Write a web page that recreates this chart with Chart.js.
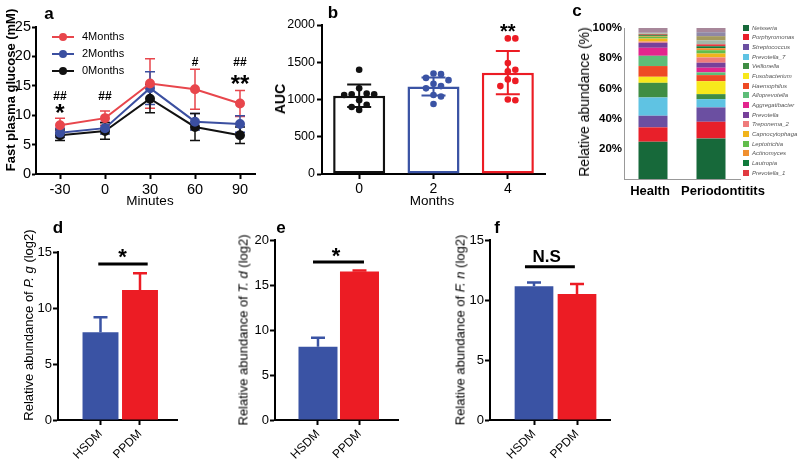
<!DOCTYPE html>
<html lang="en">
<head>
<meta charset="UTF-8" />
<title>Glucose tolerance and oral microbiota</title>
<script src="https://cdn.jsdelivr.net/npm/chart.js@4.4.0/dist/chart.umd.min.js"></script>
<style>
  body { margin: 0; background: #fff; font-family: "Liberation Sans", Arial, sans-serif; }
  #fig { position: relative; width: 800px; height: 470px; overflow: hidden; background: #fff; }
  #fig canvas { position: absolute; }
  .txt { position: absolute; white-space: nowrap; color: #000; line-height: 1; transform: translate(-50%, -50%); }
  .rot { transform: translate(-50%, -50%) rotate(-90deg); }
  .letter { font-weight: bold; font-size: 17px; }
  .cat { font-weight: bold; font-size: 13px; }
  #legendC { position: absolute; left: 743px; top: 23px; font-size: 6px; font-style: italic; color: #555; }
  #legendC div { height: 9.67px; display: flex; align-items: center; white-space: nowrap; }
  #legendC span { display: inline-block; width: 6px; height: 6px; margin-right: 3px; }
</style>
</head>
<body>
<div id="fig">
  <canvas id="chartA" width="262" height="215" style="left:0;top:0"></canvas>
  <canvas id="chartB" width="290" height="215" style="left:262px;top:0"></canvas>
  <canvas id="chartC" width="240" height="215" style="left:560px;top:0"></canvas>
  <canvas id="chartD" width="185" height="248" style="left:0;top:222px"></canvas>
  <canvas id="chartE" width="205" height="248" style="left:200px;top:222px"></canvas>
  <canvas id="chartF" width="200" height="248" style="left:420px;top:222px"></canvas>

  <div class="txt letter" style="left:49px;top:13px">a</div>
  <div class="txt letter" style="left:333px;top:12px">b</div>
  <div class="txt letter" style="left:577px;top:10px">c</div>
  <div class="txt letter" style="left:58px;top:227px">d</div>
  <div class="txt letter" style="left:281px;top:227px">e</div>
  <div class="txt letter" style="left:497px;top:227px">f</div>

  <div class="txt rot" style="left:10px;top:90px;font-weight:bold;font-size:13px">Fast plasma glucose (mM)</div>
  <div class="txt" style="left:150px;top:201px;font-size:13.5px">Minutes</div>
  <div class="txt rot" style="left:280px;top:99px;font-weight:bold;font-size:14px">AUC</div>
  <div class="txt" style="left:432px;top:201px;font-size:13.5px">Months</div>
  <div class="txt rot" style="left:584px;top:102px;font-size:14px">Relative abundance (%)</div>
  <div class="txt rot" style="left:28px;top:325px;font-size:13px">Relative abundance of <i>P. g</i> (log2)</div>
  <div class="txt rot" style="left:243px;top:330px;font-size:13px">Relative abundance of <i>T. d</i> (log2)</div>
  <div class="txt rot" style="left:460px;top:330px;font-size:13px">Relative abundance of <i>F. n</i> (log2)</div>

  <div id="catsC"></div>
  <div id="legendC"></div>
</div>
<script>
  // a: fasting glucose over time
  const minutes = [-30, 0, 30, 60, 90];
  const glucose4M = [8.3, 9.5, 15.4, 14.4, 12.0];
  const glucose4MSd = [1.2, 1.2, 4.2, 3.4, 2.2];
  const glucose2M = [7.0, 7.8, 14.6, 8.9, 8.5];
  const glucose2MSd = [0.8, 1.0, 2.8, 1.4, 1.4];
  const glucose0M = [6.6, 7.3, 12.8, 8.0, 6.6];
  const glucose0MSd = [0.9, 1.4, 2.4, 2.3, 1.4];

  // b: AUC per group
  const aucGroups = ["0", "2", "4"];
  const aucMean = [1050, 1175, 1360];
  const aucSd = [150, 120, 290];
  const auc0M = [1400, 1150, 1080, 1070, 1070, 1060, 990, 930, 900, 860];
  const auc2M = [1350, 1340, 1290, 1260, 1210, 1180, 1150, 1060, 1040, 940];
  const auc4M = [1820, 1820, 1490, 1400, 1380, 1270, 1250, 1180, 1000, 990];

  // c: genus level composition
  const cohorts = ["Health", "Periodontitits"];
  const taxa = ["Neisseria", "Porphyromonas", "Streptococcus", "Prevotella_7", "Veillonella",
    "Fusobacterium", "Haemophilus", "Alloprevotella", "Aggregatibacter", "Prevotella",
    "Treponema_2", "Capnocytophaga", "Leptotrichia", "Actinomyces", "Lautropia", "Prevotella_1"];
  const taxaHealth = [24.7, 9.5, 7.7, 12.1, 9.7, 4.0, 7.1, 6.8, 5.3, 3.3, 0.8, 2.0, 1.2, 0.6, 0.7, 0.5];
  const taxaPerio = [26.9, 11.0, 9.5, 5.5, 3.3, 8.6, 4.0, 1.8, 3.1, 3.3, 3.5, 2.6, 2.2, 1.3, 1.3, 1.3];
  const otherHealth = [0.4, 0.3, 0.2, 3.1];
  const otherPerio = [2.6, 2.8, 2.6, 2.8];

  // d-f: qPCR
  const qpcrGroups = ["HSDM", "PPDM"];
  const pgMean = [7.83, 11.6];
  const pgSd = [1.34, 1.5];
  const tdMean = [8.15, 16.5];
  const tdSd = [1.0, 0.12];
  const fnMean = [11.15, 10.5];
  const fnSd = [0.3, 0.83];

  const taxaColors = ["#17693a", "#e8202a", "#6b4fa1", "#5fc3e3", "#3f8d43", "#f7e81c", "#ee4a25", "#5dbd78",
    "#e3258d", "#77409a", "#ef7b7b", "#f1b41c", "#62bd4c", "#f08f2f", "#0f7a3b", "#e13a40"];
  const otherColors = ["#a3b7a8", "#a49a5e", "#8f88a6", "#a7879a"];
  const RED = "#ec1c24";
  const BLUE = "#3a53a4";

  Chart.defaults.font.family = '"Liberation Sans", Arial, sans-serif';
  Chart.defaults.color = "#000";

  const errorBars = {
    id: "errorBars",
    beforeDatasetsDraw(chart, args, opts) {
      if (opts.behind) drawErrors(chart, opts);
    },
    afterDatasetsDraw(chart, args, opts) {
      if (!opts.behind) drawErrors(chart, opts);
    },
  };
  function drawErrors(chart, opts) {
    const ctx = chart.ctx;
    chart.data.datasets.forEach((ds, i) => {
      if (!ds.errors) return;
      const meta = chart.getDatasetMeta(i);
      const yScale = chart.scales[meta.yAxisID];
      ctx.save();
      ctx.lineWidth = opts.width || 2;
      meta.data.forEach((el, j) => {
        const d = ds.data[j];
        const v = typeof d === "object" ? d.y : d;
        const e = ds.errors[j];
        const col = ds.borderColor || ds.backgroundColor;
        ctx.strokeStyle = Array.isArray(col) ? col[j] : col;
        const top = yScale.getPixelForValue(v + e);
        const bot = yScale.getPixelForValue(opts.upOnly ? v : v - e);
        const cap = opts.cap || 5;
        ctx.beginPath();
        ctx.moveTo(el.x, bot);
        ctx.lineTo(el.x, top);
        ctx.moveTo(el.x - cap, top);
        ctx.lineTo(el.x + cap, top);
        if (!opts.upOnly) {
          ctx.moveTo(el.x - cap, bot);
          ctx.lineTo(el.x + cap, bot);
        }
        ctx.stroke();
      });
      ctx.restore();
    });
  }

  const marks = {
    id: "marks",
    afterDraw(chart, args, opts) {
      const ctx = chart.ctx;
      const x = chart.scales.x;
      const y = chart.scales.y;
      ctx.save();
      ctx.fillStyle = "#000";
      ctx.strokeStyle = "#000";
      (opts.lines || []).forEach((l) => {
        ctx.lineWidth = 3;
        ctx.beginPath();
        ctx.moveTo(x.getPixelForValue(l.x1), y.getPixelForValue(l.y));
        ctx.lineTo(x.getPixelForValue(l.x2), y.getPixelForValue(l.y));
        ctx.stroke();
      });
      (opts.labels || []).forEach((t) => {
        ctx.font = t.font + ' "Liberation Sans", Arial, sans-serif';
        ctx.textAlign = "center";
        ctx.textBaseline = "middle";
        ctx.fillText(t.text, x.getPixelForValue(t.x), y.getPixelForValue(t.y));
      });
      ctx.restore();
    },
  };

  const lineLegend = {
    id: "lineLegend",
    afterDraw(chart) {
      const ctx = chart.ctx;
      const a = chart.chartArea;
      ctx.save();
      chart.data.datasets.forEach((ds, i) => {
        const yy = a.top + 10 + i * 17;
        const x0 = a.left + 16;
        ctx.strokeStyle = ds.borderColor;
        ctx.fillStyle = ds.borderColor;
        ctx.lineWidth = 2;
        ctx.beginPath();
        ctx.moveTo(x0, yy);
        ctx.lineTo(x0 + 22, yy);
        ctx.stroke();
        ctx.beginPath();
        ctx.arc(x0 + 11, yy, 4, 0, Math.PI * 2);
        ctx.fill();
        ctx.fillStyle = "#000";
        ctx.font = '11px "Liberation Sans", Arial, sans-serif';
        ctx.textAlign = "left";
        ctx.textBaseline = "middle";
        ctx.fillText(ds.label, x0 + 30, yy);
      });
      ctx.restore();
    },
  };

  const blackBorder = { color: "#000", width: 2 };
  const tickGrid = (len) => ({
    display: true,
    drawOnChartArea: false,
    drawTicks: true,
    tickLength: len,
    tickWidth: 2,
    tickColor: "#000",
    offset: false,
  });
  const fixW = (w) => (s) => { s.width = w; };
  const fixH = (h) => (s) => { s.height = h; };

  // ---- a ----
  const series = (label, values, sd, color) => ({
    label: label,
    data: minutes.map((m, i) => ({ x: m, y: values[i] })),
    errors: sd,
    borderColor: color,
    backgroundColor: color,
    pointBackgroundColor: color,
    pointBorderColor: color,
    pointRadius: 4,
    borderWidth: 2,
  });
  new Chart(document.getElementById("chartA"), {
    type: "line",
    data: {
      datasets: [
        series("4Months", glucose4M, glucose4MSd, "#e8464c"),
        series("2Months", glucose2M, glucose2MSd, "#3b4fa0"),
        series("0Months", glucose0M, glucose0MSd, "#111111"),
      ],
    },
    options: {
      responsive: false,
      animation: false,
      layout: { padding: { top: 27, right: 7, left: 0, bottom: 0 } },
      scales: {
        x: {
          type: "linear",
          min: -46,
          max: 100,
          afterBuildTicks: (s) => { s.ticks = minutes.map((v) => ({ value: v })); },
          afterFit: fixH(41),
          grid: tickGrid(5),
          border: blackBorder,
          ticks: { font: { size: 14.5 }, padding: 2 },
        },
        y: {
          min: 0,
          max: 25,
          ticks: { stepSize: 5, font: { size: 14.5 }, padding: 1 },
          afterFit: fixW(36),
          grid: tickGrid(4),
          border: blackBorder,
        },
      },
      plugins: {
        legend: { display: false },
        tooltip: { enabled: false },
        errorBars: { behind: true, cap: 5, width: 1.5 },
        marks: {
          labels: [
            { x: -30, y: 13.1, text: "##", font: "bold 12px" },
            { x: -30, y: 10.2, text: "*", font: "bold 24px" },
            { x: 0, y: 13.1, text: "##", font: "bold 12px" },
            { x: 60, y: 18.9, text: "#", font: "bold 12px" },
            { x: 90, y: 18.9, text: "##", font: "bold 12px" },
            { x: 90, y: 15.0, text: "**", font: "bold 24px" },
          ],
        },
      },
    },
    plugins: [errorBars, marks, lineLegend],
  });

  // ---- b ----
  // simple beeswarm: spread dots sideways when they would overlap
  function swarm(values, idx) {
    const DOT = 7.5;
    const Y_PX = 149 / 2000;
    const X_PX = 74.3;
    const placed = [];
    return values.map((v) => {
      const py = v * Y_PX;
      let off = 0;
      for (let k = 0; k < 15; k++) {
        const cand = (k % 2 ? 1 : -1) * Math.ceil(k / 2) * DOT;
        if (placed.every((p) => Math.hypot(p.x - cand, p.y - py) >= DOT)) {
          off = cand;
          break;
        }
      }
      placed.push({ x: off, y: py });
      return { x: idx + off / X_PX, y: v };
    });
  }
  const groupColors = ["#111111", BLUE, RED];
  const dots = [auc0M, auc2M, auc4M].map((vals, i) => swarm(vals, i));
  new Chart(document.getElementById("chartB"), {
    type: "bar",
    data: {
      datasets: [
        {
          data: aucMean.map((v, i) => ({ x: i, y: v })),
          errors: aucSd,
          backgroundColor: "#fff",
          borderColor: groupColors,
          borderWidth: 2.5,
          borderSkipped: false,
          barPercentage: 0.7,
          categoryPercentage: 1,
          order: 2,
        },
        ...dots.map((pts, i) => ({
          type: "scatter",
          data: pts,
          backgroundColor: groupColors[i],
          pointBackgroundColor: groupColors[i],
          pointBorderWidth: 0,
          pointRadius: 3.3,
          order: 1,
        })),
      ],
    },
    options: {
      responsive: false,
      animation: false,
      layout: { padding: { top: 25, right: 7, left: 0, bottom: 0 } },
      scales: {
        x: {
          type: "linear",
          offset: false,
          min: -0.5,
          max: 2.5,
          afterBuildTicks: (s) => { s.ticks = aucGroups.map((g, i) => ({ value: i })); },
          afterFit: fixH(41),
          grid: tickGrid(5),
          border: blackBorder,
          ticks: { font: { size: 14 }, padding: 2, callback: (v) => aucGroups[v] },
        },
        y: {
          min: 0,
          max: 2000,
          ticks: { stepSize: 500, font: { size: 12.5 }, padding: 2, callback: (v) => String(v) },
          afterFit: fixW(60),
          grid: tickGrid(5),
          border: blackBorder,
        },
      },
      plugins: {
        legend: { display: false },
        tooltip: { enabled: false },
        errorBars: { behind: false, cap: 12, width: 2 },
        marks: { labels: [{ x: 2, y: 1900, text: "**", font: "bold 20px" }] },
      },
    },
    plugins: [errorBars, marks],
  });

  // ---- c ----
  const cDatasets = taxa
    .map((name, i) => ({
      label: name,
      data: [taxaHealth[i], taxaPerio[i]],
      backgroundColor: taxaColors[i],
    }))
    .concat(
      otherColors.map((c, i) => ({
        label: "Other " + (i + 1),
        data: [otherHealth[i], otherPerio[i]],
        backgroundColor: c,
      }))
    );
  new Chart(document.getElementById("chartC"), {
    type: "bar",
    data: { labels: cohorts, datasets: cDatasets },
    options: {
      responsive: false,
      animation: false,
      datasets: { bar: { barPercentage: 0.5, categoryPercentage: 1, borderWidth: 0 } },
      layout: { padding: { top: 28, right: 60, left: 0, bottom: 0 } },
      scales: {
        x: {
          stacked: true,
          afterFit: fixH(36),
          grid: { display: false, drawTicks: false },
          border: { color: "#999", width: 1 },
          ticks: { display: false },
        },
        y: {
          stacked: true,
          min: 0,
          max: 100,
          afterFit: fixW(64),
          grid: { display: false, drawTicks: false },
          border: { color: "#999", width: 1 },
          ticks: {
            stepSize: 20,
            padding: 2,
            font: { size: 11.5, weight: "bold" },
            callback: (v) => (v === 0 ? "" : v + "%"),
          },
        },
      },
      plugins: { legend: { display: false }, tooltip: { enabled: false } },
    },
  });
  // category names sit slightly off their bars in the original, so they are placed as text
  const catsC = document.getElementById("catsC");
  [650, 723].forEach((cx, i) => {
    const el = document.createElement("div");
    el.className = "txt cat";
    el.style.left = cx + "px";
    el.style.top = "190px";
    el.textContent = cohorts[i];
    catsC.appendChild(el);
  });
  const legendC = document.getElementById("legendC");
  taxa.forEach((name, i) => {
    const row = document.createElement("div");
    const box = document.createElement("span");
    box.style.background = taxaColors[i];
    row.appendChild(box);
    row.appendChild(document.createTextNode(name));
    legendC.appendChild(row);
  });

  // ---- d, e, f ----
  function qpcrChart(id, mean, sd, cfg) {
    return new Chart(document.getElementById(id), {
      type: "bar",
      data: {
        datasets: [
          {
            data: mean.map((v, i) => ({ x: i, y: v })),
            errors: sd,
            backgroundColor: [BLUE, RED],
            borderColor: [BLUE, RED],
            borderWidth: 0,
            barPercentage: cfg.bar,
            categoryPercentage: 1,
          },
        ],
      },
      options: {
        responsive: false,
        animation: false,
        layout: { padding: { top: cfg.top, right: cfg.right, left: 0, bottom: 0 } },
        scales: {
          x: {
            type: "linear",
            offset: false,
            min: cfg.xmin,
            max: cfg.xmax,
            afterBuildTicks: (s) => { s.ticks = qpcrGroups.map((g, i) => ({ value: i })); },
            afterFit: fixH(50),
            grid: tickGrid(5),
            border: blackBorder,
            ticks: {
              font: { size: 12 },
              padding: 2,
              minRotation: 45,
              maxRotation: 45,
              callback: (v) => qpcrGroups[v],
            },
          },
          y: {
            min: 0,
            max: cfg.ymax,
            ticks: { stepSize: 5, font: { size: 13 }, padding: 1 },
            afterFit: fixW(cfg.yw),
            grid: tickGrid(5),
            border: blackBorder,
          },
        },
        plugins: {
          legend: { display: false },
          tooltip: { enabled: false },
          errorBars: { behind: false, upOnly: true, cap: 7, width: 2.5 },
          marks: { lines: cfg.lines, labels: cfg.labels },
        },
      },
      plugins: [errorBars, marks],
    });
  }
  qpcrChart("chartD", pgMean, pgSd, {
    bar: 0.91, top: 30, right: 8, yw: 58, xmin: -1.076, xmax: 1.937, ymax: 15,
    lines: [{ x1: -0.056, x2: 1.195, y: 13.93 }],
    labels: [{ x: 0.557, y: 14.43, text: "*", font: "bold 22px" }],
  });
  qpcrChart("chartE", tdMean, tdSd, {
    bar: 0.94, top: 18, right: 7, yw: 75, xmin: -1.036, xmax: 1.928, ymax: 20,
    lines: [{ x1: -0.12, x2: 1.108, y: 17.56 }],
    labels: [{ x: 0.434, y: 18.1, text: "*", font: "bold 22px" }],
  });
  qpcrChart("chartF", fnMean, fnSd, {
    bar: 0.9, top: 18, right: 10, yw: 70, xmin: -1.023, xmax: 1.767, ymax: 15,
    lines: [{ x1: -0.21, x2: 0.95, y: 12.78 }],
    labels: [{ x: 0.295, y: 13.56, text: "N.S", font: "bold 17px" }],
  });
</script>
</body>
</html>
